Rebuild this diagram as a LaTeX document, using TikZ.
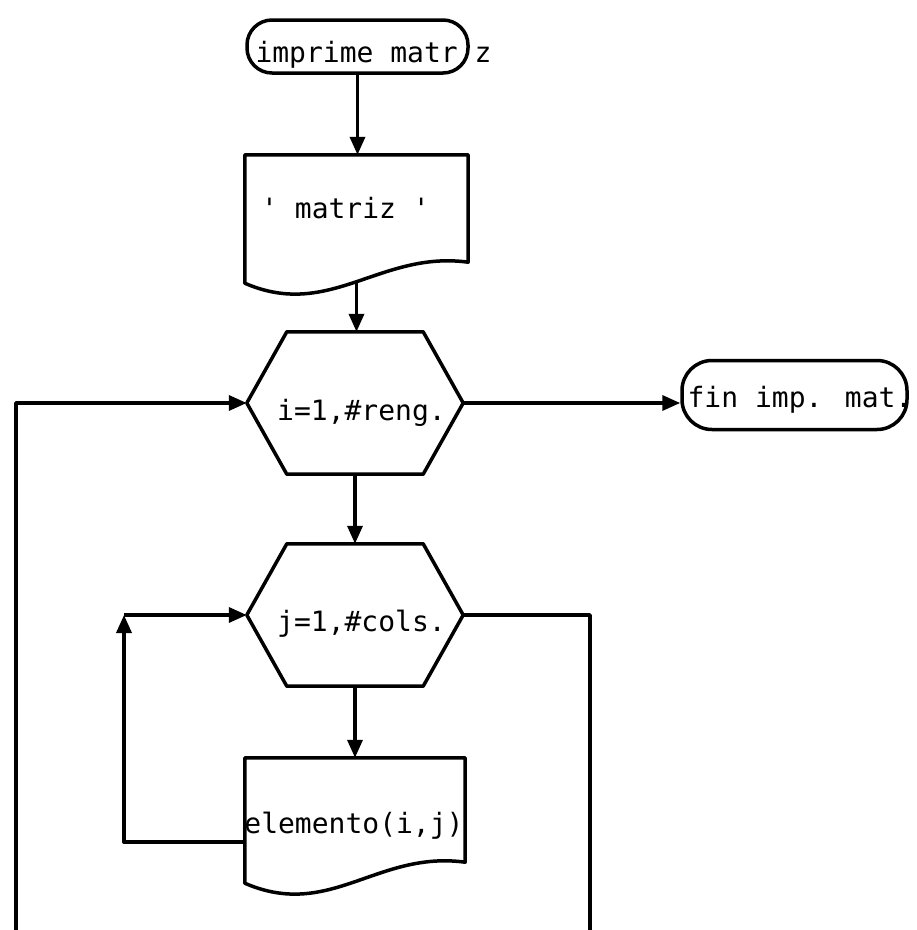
\documentclass[tikz,border=0pt]{standalone}
\usepackage{fontspec}
\newfontfamily\tw{DejaVu Sans Mono}
\usetikzlibrary{arrows.meta,calc}
\begin{document}
\begin{tikzpicture}[x=1pt,y=-1pt,
  ln/.style={line width=3.5pt, line join=round},
  arr/.style={ln, -{Triangle[length=18pt,width=15pt]}},
  frame/.style={rectangle, draw=none, inner sep=0pt},
  term/.style={rectangle, draw, line width=3.5pt, inner sep=0pt},
  lbl/.style={inner sep=0pt, anchor=base, font={\tw\fontsize{28pt}{30pt}\selectfont}}]
\useasboundingbox (0,0) rectangle (917,930);
\fill[white] (0,0) rectangle (917,930);

% nodes
\node[term, rounded corners=25pt, minimum width=221pt, minimum height=53pt] (t1) at (357.5,46.5) {};
\node[lbl] (t1txt) at (373.5,62) {imprime matr\hphantom{i}z};

\node[frame, minimum width=223pt, minimum height=128pt] (d1) at (356.5,219) {};
\node[lbl] (d1txt) at (345.5,218) {\textquotesingle{} matriz \textquotesingle};

\node[frame, minimum width=216pt, minimum height=142pt] (h1) at (355,403) {};
\node[lbl] (h1txt) at (361.5,420) {i=1,\#reng.};

\node[term, rounded corners=30pt, minimum width=225pt, minimum height=69pt] (fin) at (794.5,395) {};
\node[lbl] (fintxt) at (800,407) {fin imp. mat.};

\node[frame, minimum width=216pt, minimum height=142pt] (h2) at (355,615) {};
\node[lbl] (h2txt) at (361.5,631) {j=1,\#cols.};

\node[frame, minimum width=220pt, minimum height=125pt] (d2) at (355,820.5) {};
\node[lbl] (d2txt) at (354,833) {elemento(i,j)};

% shapes
\foreach \d in {d1,d2}{
  \draw[ln] (\d.south west) -- (\d.north west) -- (\d.north east) -- ($(\d.south east)+(0,-21)$)
    .. controls ($(\d.south east)+(-88,-33)$) and ($(\d.south west)+(85,37)$) .. (\d.south west) -- cycle;
}
\foreach \h in {h1,h2}{
  \draw[ln] (\h.west) -- ($(\h.north west)+(40,0)$) -- ($(\h.north east)+(-40,0)$) -- (\h.east)
    -- ($(\h.south east)+(-40,0)$) -- ($(\h.south west)+(40,0)$) -- cycle;
}

% connectors
\coordinate (L0) at (16,930);
\coordinate (C1) at (124,615);
\coordinate (R0) at (590,930);
\coordinate (D2out) at ($(d2.south west)+(0,-41)$);

\draw[arr] (t1.south) -- (t1.south |- d1.north);
\draw[arr] (d1.south) -- (d1.south |- h1.north);
\draw[arr] (h1.south) -- (h2.north);
\draw[arr] (h2.south) -- (d2.north);
\draw[arr] (h1.east) -- (h1.east -| fin.west);
\draw[arr] (L0) |- (h1.west);
\draw[arr] (D2out) -| (C1);
\draw[arr] (C1) -- (h2.west);
\draw[ln] (h2.east) -| (R0);
\end{tikzpicture}
\end{document}
